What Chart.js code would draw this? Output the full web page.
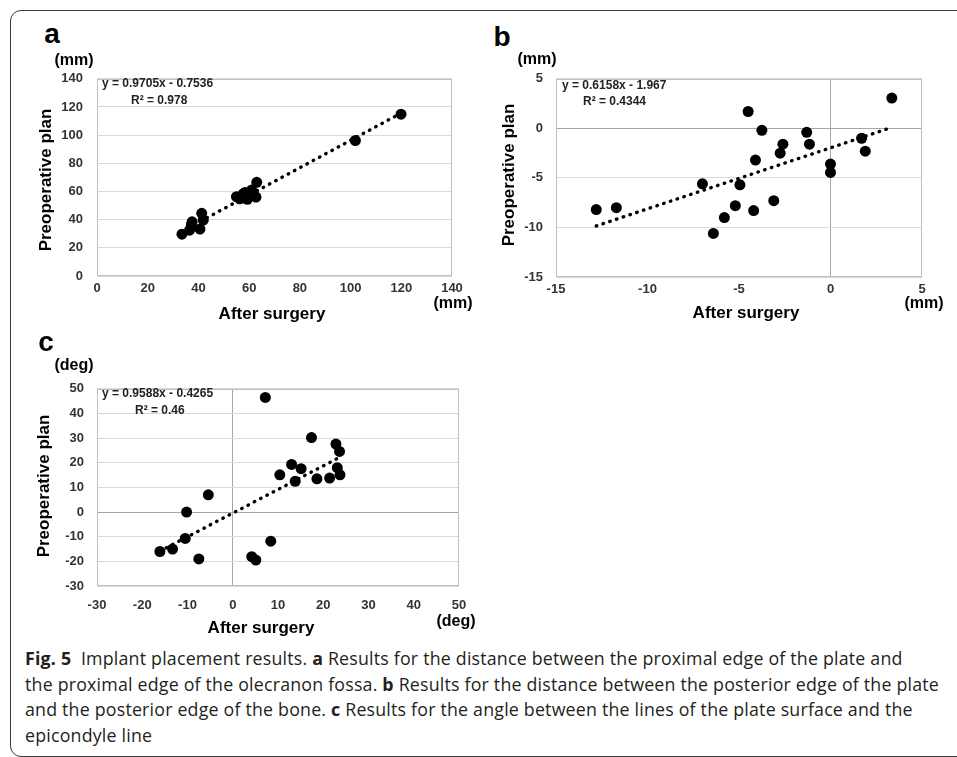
<!DOCTYPE html>
<html>
<head>
<meta charset="utf-8">
<script src="https://cdn.jsdelivr.net/npm/chart.js@4.4.1/dist/chart.umd.min.js"></script>
<style>
  html, body { margin: 0; padding: 0; background: #fff; }
  body { width: 957px; height: 757px; position: relative; overflow: hidden; }
  #frame {
    position: absolute; left: 10px; top: 10px; width: 1000px; height: 745px;
    border: 1.5px solid #3c3c3c; border-radius: 11px;
  }
  canvas { position: absolute; }
  .t {
    position: absolute; white-space: nowrap; color: #000;
    font-family: "Liberation Sans", Arial, sans-serif; font-weight: bold;
    transform: translate(-50%, -50%); line-height: 1;
  }
  .eq { transform: translate(0, -50%); font-size: 12px; color: #222; }
  .letter { font-size: 28px; }
  .unit { font-size: 16px; }
  .axt { font-size: 17px; }
  .rot { transform: translate(-50%, -50%) rotate(-90deg); }
  #caption {
    position: absolute; left: 25px; top: 646px; white-space: nowrap;
    font-family: "Open Sans", "Noto Sans", sans-serif; font-size: 17.8px;
    line-height: 25.5px; color: #231f20; letter-spacing: 0.2px;
  }
  #caption b { font-weight: bold; }
</style>
</head>
<body>
<div id="frame"></div>

<canvas id="chartA" width="425" height="244" style="left:47px; top:57px;"></canvas>
<canvas id="chartB" width="436" height="244" style="left:506px; top:58px;"></canvas>
<canvas id="chartC" width="432" height="250" style="left:47px; top:368px;"></canvas>

<!-- panel a labels -->
<div class="t letter" style="left:52px; top:34px;">a</div>
<div class="t unit" style="left:74px; top:60px;">(mm)</div>
<div class="t unit" style="left:453px; top:303px;">(mm)</div>
<div class="t axt" style="left:272px; top:313px;">After surgery</div>
<div class="t axt rot" style="left:45px; top:180px;">Preoperative plan</div>
<div class="t eq" style="left:102px; top:83px;">y = 0.9705x - 0.7536</div>
<div class="t eq" style="left:131px; top:100px;">R² = 0.978</div>

<!-- panel b labels -->
<div class="t letter" style="left:502px; top:37px;">b</div>
<div class="t unit" style="left:537px; top:59px;">(mm)</div>
<div class="t unit" style="left:924px; top:303px;">(mm)</div>
<div class="t axt" style="left:746px; top:312px;">After surgery</div>
<div class="t axt rot" style="left:508px; top:175px;">Preoperative plan</div>
<div class="t eq" style="left:562px; top:85px;">y = 0.6158x - 1.967</div>
<div class="t eq" style="left:583px; top:101px;">R² = 0.4344</div>

<!-- panel c labels -->
<div class="t letter" style="left:46px; top:342px;">c</div>
<div class="t unit" style="left:74px; top:365px;">(deg)</div>
<div class="t unit" style="left:456px; top:621px;">(deg)</div>
<div class="t axt" style="left:261px; top:627px;">After surgery</div>
<div class="t axt rot" style="left:43px; top:486px;">Preoperative plan</div>
<div class="t eq" style="left:102px; top:393px;">y = 0.9588x - 0.4265</div>
<div class="t eq" style="left:135px; top:410px;">R² = 0.46</div>

<div id="caption">
<b>Fig. 5</b>&nbsp; Implant placement results. <b>a</b> Results for the distance between the proximal edge of the plate and<br>
the proximal edge of the olecranon fossa. <b>b</b> Results for the distance between the posterior edge of the plate<br>
and the posterior edge of the bone. <b>c</b> Results for the angle between the lines of the plate surface and the<br>
epicondyle line
</div>

<script>
// Panel a: distance proximal edge of plate -> olecranon fossa (mm)
const aAfter = [33.5, 36.5, 37.2, 37.5, 40.6, 41.3, 41.9, 55.0, 56.3, 57.7, 58.4, 59.3, 60.2, 61.0, 61.7, 62.7, 63.0, 101.9, 119.9];
const aPlan  = [29.7, 32.5, 36.2, 38.5, 33.3, 44.5, 39.6, 56.3, 54.8, 58.4, 59.3, 54.4, 57.0, 61.0, 58.5, 56.0, 66.5, 96.2, 114.9];
const aFit = [0.9705, -0.7536];   // slope, intercept

// Panel b: posterior edge of plate -> posterior edge of bone (mm)
const bAfter = [-12.8, -11.7, -7.0, -6.4, -5.8, -5.2, -4.95, -4.5, -4.2, -4.1, -3.75, -3.1, -2.75, -2.6, -1.3, -1.15, 0, 0, 1.7, 1.9, 3.35];
const bPlan  = [-8.2, -8.0, -5.6, -10.6, -9.0, -7.8, -5.7, 1.7, -8.3, -3.2, -0.2, -7.3, -2.5, -1.6, -0.4, -1.6, -3.6, -4.45, -1.0, -2.3, 3.05];
const bFit = [0.6158, -1.967];

// Panel c: angle between plate surface and epicondyle line (deg)
const cAfter = [-16.1, -13.3, -10.5, -10.2, -7.5, -5.4, 4.2, 5.1, 7.2, 8.4, 10.4, 13.0, 13.8, 15.1, 17.4, 18.6, 21.4, 22.8, 23.1, 23.6, 23.7];
const cPlan  = [-16.0, -15.0, -10.7, 0.0, -19.0, 7.0, -18.1, -19.5, 46.5, -11.8, 15.1, 19.3, 12.5, 17.6, 30.2, 13.5, 13.8, 27.6, 18.0, 24.6, 15.1];
const cFit = [0.9588, -0.4265];

// Axis ranges: [min, max, step]
const aXRange = [0, 140, 20];
const aYRange = [0, 140, 20];
const bXRange = [-15, 5, 5];
const bYRange = [-15, 5, 5];
const cXRange = [-30, 50, 10];
const cYRange = [-30, 50, 10];


// Draws the grey box round the plot area
const framePlugin = {
    id: 'frame',
    beforeDatasetsDraw(chart) {
        const ctx = chart.ctx;
        const ca = chart.chartArea;
        ctx.save();
        ctx.strokeStyle = '#bfbfbf';
        ctx.lineWidth = 1;
        ctx.strokeRect(Math.round(ca.left) + 0.5, Math.round(ca.top) + 0.5,
            Math.round(ca.width) - 1, Math.round(ca.height) - 1);
        ctx.restore();
    }
};


function makePanel(id, xs, ys, fit, xRange, yRange, box, zeroLines) {

    // Builds one scatter chart with its dotted trend line
    // box = {yWidth, xHeight, padTop, padRight, xPad, yPad}

    const points = xs.map((x, i) => ({ x: x, y: ys[i] }));
    const x0 = Math.min(...xs);
    const x1 = Math.max(...xs);
    const trend = [
        { x: x0, y: fit[0] * x0 + fit[1] },
        { x: x1, y: fit[0] * x1 + fit[1] }
    ];

    const tickFont = { family: '"Liberation Sans", Arial, sans-serif', size: 13, weight: 'bold' };

    return new Chart(document.getElementById(id), {
        type: 'scatter',
        data: {
            datasets: [{
                type: 'line',
                data: trend,
                borderColor: '#000',
                borderWidth: 3.4,
                borderDash: [0.5, 6.6],
                borderCapStyle: 'round',
                pointRadius: 0,
                fill: false,
                order: 2
            }, {
                data: points,
                backgroundColor: '#000',
                borderColor: '#000',
                pointRadius: 5.5,
                pointBorderWidth: 0,
                order: 1
            }]
        },
        options: {
            responsive: false,
            animation: false,
            layout: { padding: { top: box.padTop, right: box.padRight, left: 0, bottom: 0 } },
            plugins: { legend: { display: false }, tooltip: { enabled: false } },
            scales: {
                x: {
                    type: 'linear',
                    min: xRange[0], max: xRange[1],
                    ticks: { stepSize: xRange[2], font: tickFont, color: '#333', padding: box.xPad, maxRotation: 0 },
                    grid: {
                        drawTicks: false,
                        color: (c) => (zeroLines && c.tick && c.tick.value === 0) ? '#a6a6a6' : 'rgba(0,0,0,0)'
                    },
                    border: { display: false },
                    afterFit: (scale) => { scale.height = box.xHeight; }
                },
                y: {
                    type: 'linear',
                    min: yRange[0], max: yRange[1],
                    ticks: { stepSize: yRange[2], font: tickFont, color: '#333', padding: box.yPad },
                    grid: {
                        drawTicks: false,
                        color: (c) => (zeroLines && c.tick && c.tick.value === 0) ? '#a6a6a6' : '#d9d9d9'
                    },
                    border: { display: false },
                    afterFit: (scale) => { scale.width = box.yWidth; }
                }
            }
        },
        plugins: [framePlugin]
    });
}


makePanel('chartA', aAfter, aPlan, aFit, aXRange, aYRange,
    { yWidth: 50, xHeight: 25, padTop: 15, padRight: 20, xPad: 4.5, yPad: 14 }, false);
makePanel('chartB', bAfter, bPlan, bFit, bXRange, bYRange,
    { yWidth: 50, xHeight: 25, padTop: 16, padRight: 20, xPad: 4.5, yPad: 13 }, true);
makePanel('chartC', cAfter, cPlan, cFit, cXRange, cYRange,
    { yWidth: 50, xHeight: 32, padTop: 15, padRight: 20, xPad: 11.5, yPad: 13 }, true);
</script>
</body>
</html>
